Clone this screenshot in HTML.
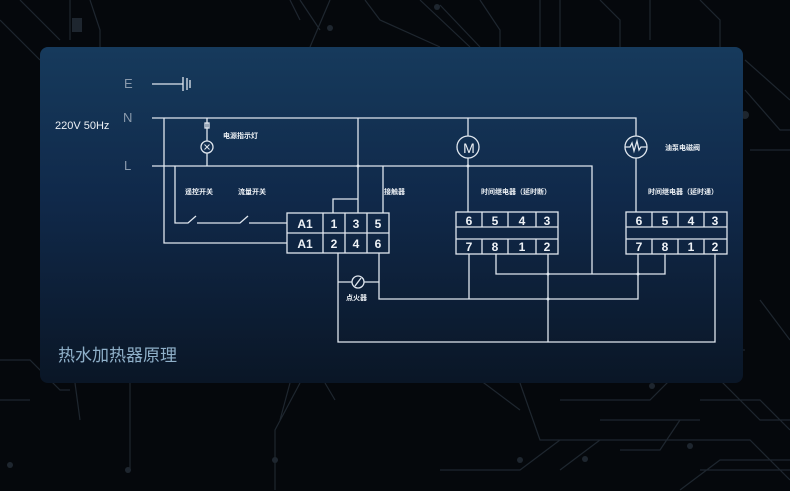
<!DOCTYPE html>
<html><head><meta charset="utf-8"><style>
html,body{margin:0;padding:0;}
body{width:790px;height:491px;background:#05080c;position:relative;overflow:hidden;font-family:"Liberation Sans","Noto Sans CJK SC",sans-serif;}
.panel{position:absolute;left:40px;top:47px;width:703px;height:336px;border-radius:8px;background:linear-gradient(180deg,#163a5c 0%,#10294a 45%,#0a1626 100%);}
svg{position:absolute;left:0;top:0;}
</style></head><body>
<svg width="790" height="491" style="opacity:.55">
<g stroke="#34404c" stroke-width="1.2" fill="none">
<path d="M0 20 L40 60 M20 0 L60 40 M70 0 L70 40 M90 0 L100 30 L100 47 M290 0 L300 20 M300 0 L320 30 M330 0 L310 47 M365 0 L380 20 L440 47 M420 0 L470 47 M440 5 L480 47 M480 0 L500 30 L500 47 M540 0 L540 47 M560 0 L560 47 M600 0 L620 20 L620 47 M650 0 L650 40 M700 0 L720 20 L720 47 M745 60 L790 100 M745 90 L780 130 L790 130 M750 150 L790 150 M760 300 L790 340"/>
<path d="M0 360 L30 360 L60 390 L70 390 M0 400 L30 400 M75 383 L80 420 M130 383 L130 470 M290 383 L280 420 M300 383 L275 430 L275 490 M325 383 L335 400 M520 383 L540 440 L620 440 M440 470 L520 470 L560 440 M480 380 L520 410 M560 400 L650 400 L700 350 L745 350 M600 420 L700 420 M620 450 L660 450 L680 420 M560 470 L600 440 L750 440 L790 480 M680 490 L720 460 L790 460 M700 470 L790 470 M660 380 L720 380 L760 420 L790 420 M700 400 L760 400 L790 430"/>
</g>
<g fill="#34404c">
<circle cx="128" cy="470" r="3"/><circle cx="275" cy="460" r="3"/><circle cx="520" cy="460" r="3"/><circle cx="585" cy="459" r="3"/><circle cx="690" cy="446" r="3"/><circle cx="652" cy="386" r="3"/><circle cx="745" cy="115" r="4"/><circle cx="10" cy="465" r="3"/><circle cx="330" cy="28" r="3"/><circle cx="437" cy="7" r="3"/><rect x="72" y="18" width="10" height="14"/></g>
</svg>
<div class="panel"></div>
<svg width="790" height="491">
<g stroke="#dfe6ee" stroke-width="1.3" fill="none">
<path d="M152 84 H183 M183 77 V91 M187 78 V90 M190 80 V88"/>
<path d="M152 118 H636 V136 M636 158 V212"/>
<path d="M152 166 H592 V274"/>
<path d="M164 118 V243 H287"/>
<path d="M207 118 V141 M207 153 V166"/>
<circle cx="207" cy="147" r="6"/>
<path d="M204.5 144.5 L209.5 149.5 M209.5 144.5 L204.5 149.5" stroke-width="1"/>
<rect x="205" y="123" width="4" height="5"/>
<path d="M175 166 V223 H188 L196 216 M197 223 H240 L248 216 M249 223 H287"/>
<path d="M358 118 V213 M383 166 V213 M333 213 V199 H358"/>
<rect x="287" y="213" width="102" height="40"/>
<path d="M287 233 H389 M323 213 V253 M345 213 V253 M367 213 V253"/>
<path d="M338 253 V342 H715 V254 M379 253 V299 H638 V254 M338 282 H352 M364 282 H379"/>
<circle cx="358" cy="282" r="6"/>
<path d="M355 286 L361 278"/>
<circle cx="468" cy="147" r="11"/>
<path d="M468 118 V136 M468 158 V212"/>
<rect x="456" y="212" width="102" height="42"/>
<path d="M456 227 H558 M456 239 H558 M482 212 V227 M508 212 V227 M536 212 V227 M482 239 V254 M508 239 V254 M536 239 V254"/>
<path d="M469 254 V299 M496 254 V274 H665 V254 M548 254 V342"/>
<circle cx="636" cy="147" r="11"/>
<path d="M625 147 H630 L632 143 L634 151 L637 141 L639 150 L641 147 H647"/>
<rect x="626" y="212" width="101" height="42"/>
<path d="M626 227 H727 M626 239 H727 M652 212 V227 M678 212 V227 M704 212 V227 M652 239 V254 M678 239 V254 M704 239 V254"/>
</g>
<g fill="#dfe6ee">
<circle cx="358" cy="166" r="1.5"/><circle cx="468" cy="166" r="1.5"/><circle cx="548" cy="274" r="1.5"/><circle cx="548" cy="299" r="1.5"/><circle cx="638" cy="274" r="1.5"/>
</g>
<g fill="#8a9aac" font-size="13" font-family="Liberation Sans,sans-serif">
<text x="124" y="88">E</text><text x="123" y="122">N</text><text x="124" y="170">L</text>
</g>
<g fill="#eef2f6" font-size="12" font-weight="bold" text-anchor="middle">
<text x="305" y="228">A1</text><text x="334" y="228">1</text><text x="356" y="228">3</text><text x="378" y="228">5</text>
<text x="305" y="248">A1</text><text x="334" y="248">2</text><text x="356" y="248">4</text><text x="378" y="248">6</text>
<text x="469" y="225">6</text><text x="495" y="225">5</text><text x="522" y="225">4</text><text x="547" y="225">3</text>
<text x="469" y="251">7</text><text x="495" y="251">8</text><text x="522" y="251">1</text><text x="547" y="251">2</text>
<text x="639" y="225">6</text><text x="665" y="225">5</text><text x="691" y="225">4</text><text x="715" y="225">3</text>
<text x="639" y="251">7</text><text x="665" y="251">8</text><text x="691" y="251">1</text><text x="715" y="251">2</text>
<text x="469" y="153" font-weight="normal" font-size="14">M</text>
</g>
<g fill="#eef2f6" font-size="7" font-weight="bold" font-family="'Noto Sans CJK SC',sans-serif">
<text x="223" y="138">电源指示灯</text>
<text x="185" y="194">遥控开关</text><text x="238" y="194">流量开关</text>
<text x="384" y="194">接触器</text>
<text x="346" y="300">点火器</text>
<text x="481" y="194">时间继电器（延时断）</text>
<text x="648" y="194">时间继电器（延时通）</text>
<text x="665" y="150">油泵电磁阀</text>
</g>
<text x="55" y="129" fill="#eef2f6" font-size="11">220V 50Hz</text>
<text x="58" y="361" fill="#8fb0c9" font-size="17" font-family="'Noto Sans CJK SC',sans-serif">热水加热器原理</text>
</svg>
</body></html>
